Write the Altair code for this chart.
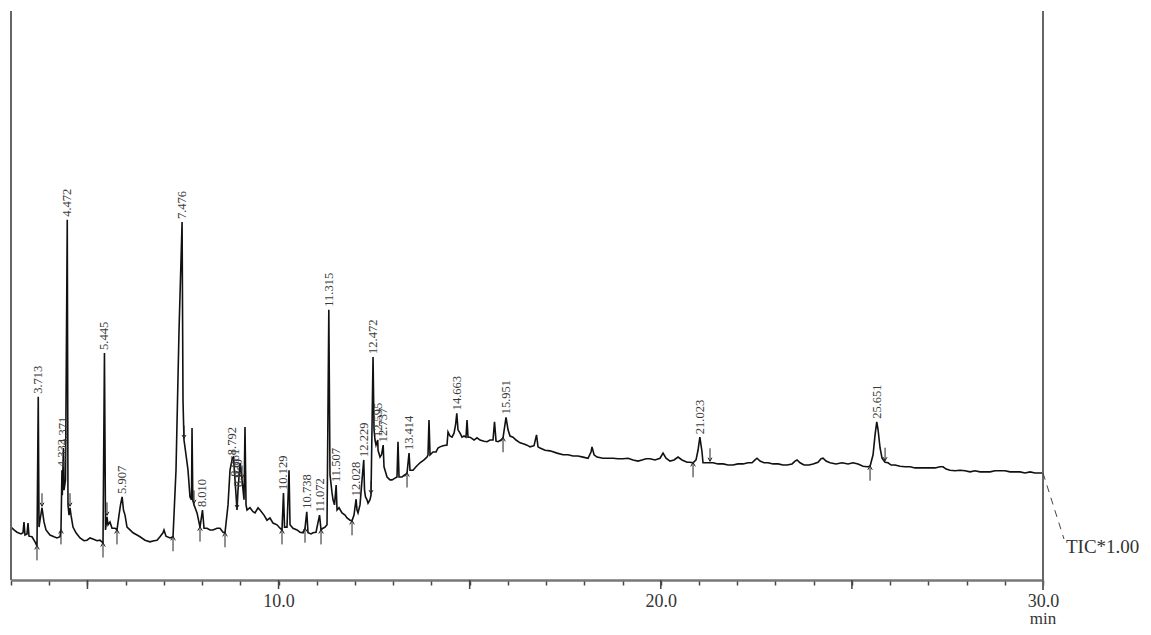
import altair as alt
import pandas as pd

# ---- chromatogram trace (retention time in min, TIC in % of full scale) ----
rt = [3.000, 3.078, 3.157, 3.262, 3.314, 3.340, 3.366, 3.419, 3.445, 3.471, 3.549, 3.628, 3.680, 3.713, 3.733,
      3.759, 3.811, 3.863, 3.916, 4.020, 4.125, 4.203, 4.282, 4.308, 4.333, 4.342, 4.371, 4.387, 4.426, 4.472,
      4.491, 4.518, 4.544, 4.570, 4.622, 4.701, 4.805, 4.910, 4.988, 5.067, 5.145, 5.250, 5.329, 5.407, 5.445,
      5.473, 5.512, 5.538, 5.590, 5.643, 5.721, 5.773, 5.826, 5.865, 5.907, 5.943, 5.983, 6.035, 6.114, 6.192,
      6.297, 6.375, 6.506, 6.637, 6.741, 6.820, 6.898, 6.977, 7.003, 7.055, 7.160, 7.239, 7.317, 7.396, 7.476,
      7.500, 7.526, 7.579, 7.631, 7.683, 7.723, 7.736, 7.757, 7.788, 7.867, 7.945, 8.010, 8.050, 8.128, 8.207,
      8.285, 8.390, 8.468, 8.547, 8.599, 8.678, 8.730, 8.792, 8.821, 8.861, 8.913, 8.939, 8.992, 9.044, 9.096,
      9.122, 9.149, 9.175, 9.253, 9.332, 9.384, 9.463, 9.515, 9.619, 9.698, 9.776, 9.855, 9.960, 10.038, 10.090,
      10.129, 10.156, 10.221, 10.274, 10.300, 10.378, 10.483, 10.561, 10.640, 10.692, 10.738, 10.771, 10.849,
      10.901, 10.980, 11.072, 11.111, 11.163, 11.216, 11.268, 11.315, 11.346, 11.399, 11.425, 11.464, 11.507,
      11.530, 11.582, 11.660, 11.739, 11.791, 11.870, 11.922, 11.974, 12.028, 12.053, 12.079, 12.131, 12.184,
      12.229, 12.249, 12.275, 12.314, 12.341, 12.393, 12.419, 12.472, 12.498, 12.524, 12.550, 12.595, 12.603,
      12.655, 12.694, 12.737, 12.759, 12.838, 12.916, 12.968, 13.047, 13.099, 13.125, 13.152, 13.230, 13.309,
      13.361, 13.414, 13.439, 13.518, 13.596, 13.701, 13.806, 13.884, 13.910, 13.936, 13.963, 14.041, 14.120,
      14.172, 14.224, 14.303, 14.407, 14.434, 14.486, 14.538, 14.591, 14.630, 14.663, 14.695, 14.748, 14.800,
      14.852, 14.904, 14.931, 14.957, 15.009, 15.114, 15.192, 15.271, 15.376, 15.454, 15.533, 15.611, 15.650,
      15.690, 15.742, 15.820, 15.873, 15.951, 16.004, 16.056, 16.134, 16.213, 16.318, 16.422, 16.501, 16.579,
      16.684, 16.749, 16.788, 16.841, 16.972, 17.102, 17.286, 17.443, 17.573, 17.704, 17.835, 17.966, 18.097,
      18.175, 18.201, 18.254, 18.332, 18.489, 18.620, 18.751, 18.882, 19.013, 19.144, 19.274, 19.405, 19.510,
      19.614, 19.719, 19.850, 19.980, 20.059, 20.137, 20.242, 20.347, 20.451, 20.556, 20.687, 20.765, 20.844,
      20.922, 20.974, 21.023, 21.079, 21.105, 21.183, 21.288, 21.367, 21.498, 21.629, 21.760, 21.890, 22.021,
      22.152, 22.283, 22.388, 22.466, 22.518, 22.597, 22.702, 22.806, 22.937, 23.068, 23.199, 23.303, 23.434,
      23.513, 23.565, 23.644, 23.748, 23.879, 23.984, 24.115, 24.193, 24.245, 24.324, 24.428, 24.585, 24.742,
      24.899, 25.030, 25.161, 25.292, 25.397, 25.475, 25.554, 25.606, 25.651, 25.685, 25.737, 25.789, 25.868,
      25.946, 26.025, 26.129, 26.260, 26.391, 26.522, 26.653, 26.784, 26.914, 27.045, 27.176, 27.307, 27.385,
      27.464, 27.568, 27.699, 27.830, 27.961, 28.091, 28.222, 28.353, 28.484, 28.615, 28.745, 28.876, 29.007,
      29.138, 29.269, 29.399, 29.530, 29.661, 29.792, 29.923, 30.000]

tic = [9.3, 8.8, 8.4, 8.1, 8.3, 10.2, 7.9, 8.1, 10.0, 7.7, 7.6, 6.7, 6.0, 32.2, 9.3,
       10.5, 12.7, 10.2, 8.8, 7.9, 7.6, 7.4, 7.6, 8.8, 19.3, 14.9, 23.2, 15.8, 17.6, 63.3,
       13.2, 11.4, 12.7, 11.4, 9.3, 8.3, 7.4, 6.9, 7.0, 7.4, 7.2, 6.9, 7.0, 6.5, 39.9,
       8.8, 11.1, 9.7, 10.2, 9.1, 9.1, 8.8, 11.4, 13.2, 14.6, 12.3, 11.4, 9.3, 8.8, 8.3,
       7.9, 7.6, 7.0, 6.7, 6.9, 7.0, 7.6, 8.3, 8.8, 7.7, 7.4, 7.6, 19.3, 43.9, 62.9,
       31.6, 24.6, 22.0, 19.3, 14.6, 14.1, 26.7, 14.1, 13.2, 11.8, 9.3, 12.3, 9.1, 9.1, 8.8,
       8.8, 9.1, 9.1, 8.4, 8.3, 13.2, 19.3, 21.4, 21.6, 17.6, 12.3, 15.8, 20.6, 17.6, 14.1,
       26.9, 13.2, 12.3, 12.7, 12.0, 11.8, 12.7, 12.3, 11.4, 10.5, 10.9, 10.0, 9.7, 9.1, 8.8,
       15.3, 9.3, 9.3, 19.3, 9.7, 9.1, 8.8, 8.4, 8.3, 9.1, 12.0, 8.3, 8.1,
       8.3, 8.4, 11.4, 8.8, 9.1, 9.3, 9.7, 47.5, 18.5, 15.3, 14.1, 13.2, 16.7,
       12.3, 12.7, 11.8, 11.4, 10.9, 10.5, 10.4, 11.4, 14.2, 12.3, 11.8, 13.2, 17.6,
       21.1, 15.8, 14.6, 14.1, 13.5, 14.1, 14.9, 39.2, 26.4, 24.6, 23.7, 24.6, 22.8,
       21.6, 22.0, 23.7, 19.9, 18.1, 17.6, 17.6, 17.9, 18.1, 24.3, 18.1, 18.1, 18.5,
       18.8, 22.3, 19.3, 19.3, 19.9, 20.6, 21.1, 21.6, 22.0, 28.1, 22.0, 22.5, 22.5,
       23.2, 23.4, 23.6, 23.7, 26.0, 25.3, 25.1, 25.8, 27.2, 29.3, 26.4, 25.8, 25.1,
       25.3, 25.1, 28.1, 25.1, 25.1, 24.6, 25.0, 24.6, 24.4, 24.3, 24.6, 24.6, 27.8,
       24.4, 24.3, 24.6, 25.0, 28.6, 26.4, 25.3, 25.1, 24.6, 24.1, 23.9, 23.7, 23.4,
       23.6, 25.5, 23.4, 23.2, 22.8, 22.7, 22.3, 22.0, 22.0, 21.8, 21.8, 21.6, 21.4,
       22.5, 23.4, 22.0, 21.6, 21.4, 21.4, 21.4, 21.3, 21.3, 21.4, 21.1, 20.9, 21.1,
       21.3, 21.3, 21.1, 21.4, 22.3, 21.4, 20.9, 21.1, 21.6, 21.1, 20.7, 20.7, 20.6,
       21.1, 22.8, 25.1, 22.5, 20.6, 20.6, 20.6, 20.6, 20.4, 20.4, 20.2, 20.2, 20.4,
       20.4, 20.6, 20.6, 21.1, 21.4, 20.9, 20.6, 20.6, 20.4, 20.4, 20.2, 20.2, 20.4,
       20.9, 21.1, 20.6, 20.2, 20.2, 20.4, 20.7, 21.3, 21.4, 20.9, 20.6, 20.4, 20.6,
       20.4, 20.6, 20.4, 20.0, 19.9, 20.0, 22.0, 25.5, 27.8, 26.4, 23.2, 21.4, 20.7,
       20.6, 20.2, 20.2, 20.0, 19.9, 19.9, 19.7, 19.7, 19.7, 19.7, 19.7, 19.9, 19.9,
       19.5, 19.3, 19.2, 19.3, 19.2, 19.0, 19.2, 19.0, 19.0, 19.0, 19.2, 19.2, 19.2,
       19.0, 19.0, 19.0, 18.8, 19.0, 18.8, 18.8, 18.8]

# ---- integrated peaks: label, retention time, apex height ----
peak_label = ["3.713", "4.333", "4.371", "4.472", "5.445", "5.907", "7.476", "8.010", "8.792", "8.861",
              "8.939", "10.129", "10.738", "11.072", "11.315", "11.507", "12.028", "12.229", "12.472",
              "12.595", "12.737", "13.414", "14.663", "15.951", "21.023", "25.651"]
peak_rt = [3.713, 4.333, 4.371, 4.472, 5.445, 5.907, 7.476, 8.010, 8.792, 8.861,
           8.939, 10.129, 10.738, 11.072, 11.315, 11.507, 12.028, 12.229, 12.472,
           12.595, 12.737, 13.414, 14.663, 15.951, 21.023, 25.651]
peak_height = [32.2, 19.3, 23.2, 63.3, 39.9, 14.6, 62.9, 12.3, 21.4, 17.6,
               15.8, 15.3, 12.0, 11.4, 47.5, 16.7, 14.2, 21.1, 39.2,
               24.6, 23.7, 22.3, 29.3, 28.6, 25.1, 27.8]

# integration start (up arrows) / end (down arrows) markers
start_rt = [3.680, 4.308, 5.407, 5.773, 7.239, 7.945, 8.599, 10.090, 10.692, 11.111, 11.922, 13.361,
            15.873, 20.844, 25.475]
end_rt = [3.811, 4.544, 5.512, 7.526, 7.788, 8.913, 9.044, 12.419, 21.288, 25.868]

# axis ticks
minor_ticks = list(range(3, 31))
major_ticks = [5, 10, 15, 20, 25, 30]

trace = pd.DataFrame({"rt": rt, "tic": tic})
peaks = pd.DataFrame({"rt": peak_rt, "label": peak_label, "tic": peak_height})
starts = pd.DataFrame({"rt": start_rt}).merge(trace, on="rt")
ends = pd.DataFrame({"rt": end_rt}).merge(trace, on="rt")
majors = pd.DataFrame({"rt": major_ticks})

SERIF = "Liberation Serif"
W, H = 1032, 569

x_enc = alt.X(
    "rt:Q",
    scale=alt.Scale(domain=[3, 30], nice=False, zero=False),
    axis=alt.Axis(
        values=minor_ticks,
        labelExpr="datum.value % 10 === 0 ? format(datum.value, '.1f') : ''",
        tickSize=5, tickWidth=1.5, tickColor="#444",
        domainColor="#777", domainWidth=2.5,
        labelFont=SERIF, labelFontSize=18, labelColor="#333", labelPadding=7,
        labelFlush=False, labelOverlap=False, grid=False, title=None,
    ),
)
y_enc = alt.Y("tic:Q", scale=alt.Scale(domain=[0, 100], nice=False, zero=True), axis=None)

line = alt.Chart(trace).mark_line(color="#111", strokeWidth=1.6).encode(x=x_enc, y=y_enc)

labels = alt.Chart(peaks).mark_text(
    angle=270, align="left", baseline="middle", dx=3,
    font=SERIF, fontSize=12.5, color="#3a3a3a",
).encode(x=x_enc, y=y_enc, text="label:N")

UP = "M0,1L0,-1M-0.3,-0.45L0,-1L0.3,-0.45"
DOWN = "M0,-1L0,1M-0.3,0.45L0,1L0.3,0.45"
up_arrows = alt.Chart(starts).mark_point(
    shape=UP, size=225, filled=False, stroke="#222", strokeWidth=1, opacity=1, yOffset=7
).encode(x=x_enc, y=y_enc)
down_arrows = alt.Chart(ends).mark_point(
    shape=DOWN, size=169, filled=False, stroke="#222", strokeWidth=1, opacity=1, yOffset=-8
).encode(x=x_enc, y=y_enc)

major = alt.Chart(majors).mark_rule(color="#444", strokeWidth=1.5).encode(
    x=x_enc, y=alt.value(H), y2=alt.value(H + 9)
)

one = pd.DataFrame({"a": [0]})
left_frame = alt.Chart(one).mark_rule(color="#666", strokeWidth=2).encode(
    x=alt.value(0), y=alt.value(0), y2=alt.value(H)
)
right_frame = alt.Chart(one).mark_rule(color="#666", strokeWidth=2).encode(
    x=alt.value(W), y=alt.value(0), y2=alt.value(H + 10)
)
tic_leader = alt.Chart(one).mark_rule(color="#444", strokeWidth=1, strokeDash=[7, 6]).encode(
    x=alt.value(W), x2=alt.value(W + 21), y=alt.value(462), y2=alt.value(528)
)
tic_text = alt.Chart(one).mark_text(
    text="TIC*1.00", align="left", baseline="middle", font=SERIF, fontSize=19, color="#333"
).encode(x=alt.value(W + 23), y=alt.value(536))
min_text = alt.Chart(one).mark_text(
    text="min", align="center", baseline="alphabetic", font=SERIF, fontSize=17, color="#333"
).encode(x=alt.value(W), y=alt.value(613))

chart = alt.layer(
    line, labels, up_arrows, down_arrows, major,
    left_frame, right_frame, tic_leader, tic_text, min_text,
).properties(
    width=W, height=H,
    padding={"left": 3, "top": 3, "right": 100, "bottom": 47},
    autosize=alt.AutoSizeParams(type="none"),
    background="white",
).configure_view(stroke=None)

chart.save("out.html", embed_options={"renderer": "svg", "actions": False})
